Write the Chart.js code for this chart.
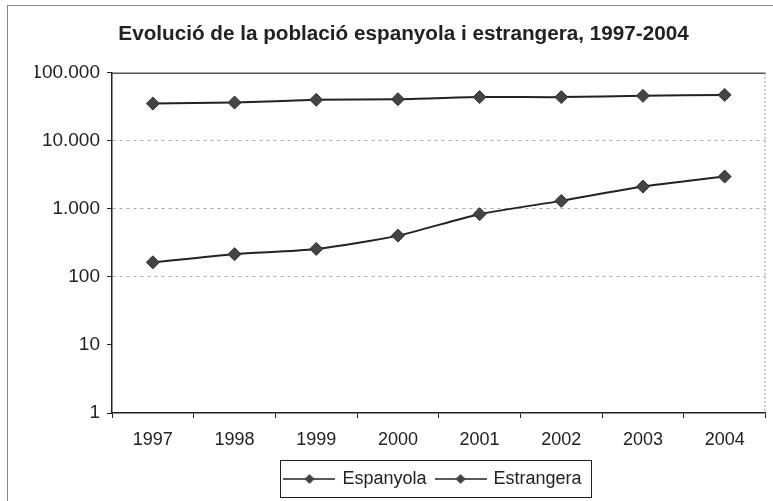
<!DOCTYPE html>
<html>
<head>
<meta charset="utf-8">
<script src="https://cdn.jsdelivr.net/npm/chart.js@4"></script>
<style>
  html, body { margin: 0; padding: 0; background: #fff; }
  canvas { display: block; }
</style>
</head>
<body>
<canvas id="c" width="773" height="501"></canvas>
<script>
// ---- data ----
const chartTitle = 'Evolució de la població espanyola i estrangera, 1997-2004';
const years = ['1997', '1998', '1999', '2000', '2001', '2002', '2003', '2004'];
const espanyola = [35400, 36600, 40100, 41000, 44000, 44000, 45900, 47400];
const estrangera = [164, 216, 258, 405, 836, 1312, 2128, 2985];
const seriesNames = ['Espanyola', 'Estrangera'];
const yTickValues = [1, 10, 100, 1000, 10000, 100000];
const yTickLabels = ['1', '10', '100', '1.000', '10.000', '100.000'];
const gridValues = [100, 1000, 10000];

const FONT = "'Liberation Sans', Arial, sans-serif";
const INK = '#222';

// legend symbol: line with a diamond
const legendSymbol = (function () {
  const c = document.createElement('canvas');
  c.width = 52; c.height = 14;
  const g = c.getContext('2d');
  g.strokeStyle = INK; g.lineWidth = 1.5;
  g.beginPath(); g.moveTo(0, 7); g.lineTo(52, 7); g.stroke();
  g.fillStyle = '#444';
  g.beginPath(); g.moveTo(26, 2); g.lineTo(31, 7); g.lineTo(26, 12); g.lineTo(21, 7); g.closePath(); g.fill();
  return c;
})();

const framePlugin = {
  id: 'frame',
  beforeDraw(chart) {
    const ctx = chart.ctx;
    ctx.save();
    ctx.fillStyle = '#fff';
    ctx.fillRect(0, 0, chart.width, chart.height);
    ctx.strokeStyle = '#888';
    ctx.lineWidth = 1;
    ctx.strokeRect(7.5, 5.5, 820, 600);
    ctx.restore();
  },
  beforeDatasetsDraw(chart) {
    const a = chart.chartArea, ctx = chart.ctx;
    ctx.save();
    ctx.strokeStyle = '#555'; ctx.lineWidth = 1.5;
    ctx.beginPath(); ctx.moveTo(a.left, a.top + 0.5); ctx.lineTo(a.right, a.top + 0.5); ctx.stroke();
    ctx.strokeStyle = '#999'; ctx.lineWidth = 1; ctx.setLineDash([2, 2]);
    ctx.beginPath(); ctx.moveTo(a.right - 0.5, a.top); ctx.lineTo(a.right - 0.5, a.bottom); ctx.stroke();
    ctx.restore();
  },
  afterLayout(chart) {
    const lg = chart.legend;
    lg.left += 30; lg.right += 30;
  },
  afterDraw(chart) {
    const lg = chart.legend;
    const pad = lg.options.labels.padding;
    const lw = lg.lineWidths[0];
    const startX = (lg.left + pad + lg.right - lw) / 2;
    const ctx = chart.ctx;
    ctx.save();
    ctx.strokeStyle = INK; ctx.lineWidth = 1;
    const x0 = Math.round(startX - 5) + 0.5;
    const x1 = Math.round(startX + lw - pad + 9) + 0.5;
    ctx.strokeRect(x0, Math.round(lg.top) + 0.5, x1 - x0, Math.round(lg.bottom - lg.top) - 1);
    ctx.restore();
  }
};

const ds = (label, data) => ({
  label, data,
  borderColor: INK, borderWidth: 2,
  pointStyle: 'rectRot', pointRadius: 6.5, pointHoverRadius: 6.5,
  pointBackgroundColor: '#444', pointBorderColor: '#333', pointBorderWidth: 1,
  tension: 0.25, fill: false
});

new Chart(document.getElementById('c'), {
  type: 'line',
  data: {
    labels: years,
    datasets: [ds(seriesNames[0], espanyola), ds(seriesNames[1], estrangera)]
  },
  options: {
    responsive: false,
    animation: false,
    devicePixelRatio: 1,
    layout: { padding: { left: 35, right: 1, top: 0, bottom: 3 } },
    plugins: {
      tooltip: { enabled: false },
      title: {
        display: true, text: chartTitle, color: INK,
        font: { family: FONT, size: 20.7, weight: 'bold', lineHeight: 1.2 },
        padding: { top: 22, bottom: 26 }
      },
      legend: {
        display: true, position: 'bottom',
        labels: {
          usePointStyle: true, pointStyleWidth: 48, boxHeight: 14,
          padding: 10, color: INK,
          font: { family: FONT, size: 18 },
          generateLabels(chart) {
            return Chart.defaults.plugins.legend.labels.generateLabels(chart)
              .map(it => Object.assign(it, { pointStyle: legendSymbol }));
          }
        }
      }
    },
    scales: {
      x: {
        type: 'category', offset: true,
        grid: { display: true, offset: true, drawOnChartArea: false, drawTicks: true, tickLength: 5, tickColor: INK, tickWidth: 1 },
        border: { display: true, color: INK, width: 1.5 },
        ticks: { color: INK, font: { family: FONT, size: 18 }, padding: 11, maxRotation: 0 },
        afterFit(s) { s.height = 47; }
      },
      y: {
        type: 'logarithmic', min: 1, max: 100000,
        afterBuildTicks(s) { s.ticks = yTickValues.map(v => ({ value: v })); },
        grid: {
          color: c => (c.tick && gridValues.includes(c.tick.value)) ? '#aaa' : 'rgba(0,0,0,0)',
          lineWidth: 1, drawTicks: true, tickLength: 5, tickColor: INK, tickWidth: 1
        },
        border: { display: true, color: INK, width: 1.5, dash: [3, 4] },
        ticks: {
          color: INK, font: { family: FONT, size: 19 }, padding: 7,
          callback(v) { const i = yTickValues.indexOf(v); return i >= 0 ? yTickLabels[i] : ''; }
        },
        afterFit(s) { s.width = 77; }
      }
    }
  },
  plugins: [framePlugin]
});
</script>
</body>
</html>
